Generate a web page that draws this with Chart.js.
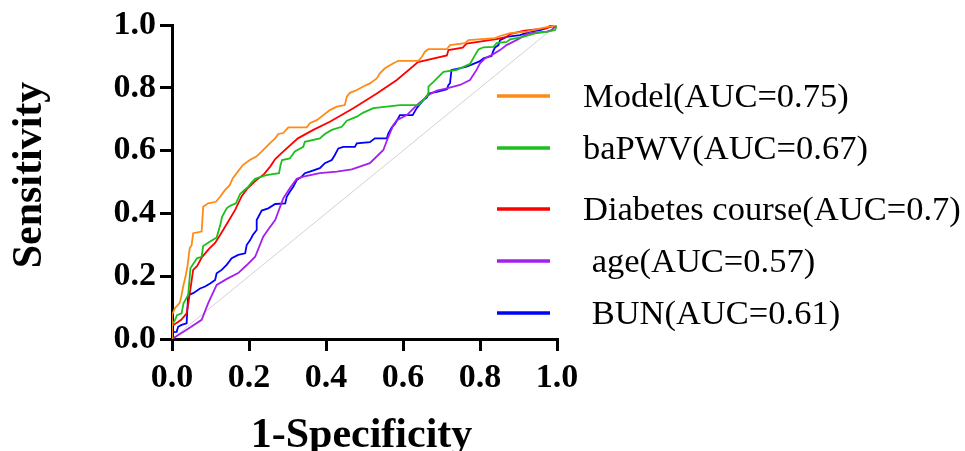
<!DOCTYPE html>
<html>
<head>
<meta charset="utf-8">
<script src="https://cdn.jsdelivr.net/npm/chart.js@4/dist/chart.umd.min.js"></script>
<style>
  html, body { margin: 0; padding: 0; background: #fff; }
  #roc { display: block; }
</style>
</head>
<body>
<canvas id="roc" width="965" height="451"></canvas>
<script>
// eixos
const xTicks = [0, 0.2, 0.4, 0.6, 0.8, 1.0];
const yTicks = [0, 0.2, 0.4, 0.6, 0.8, 1.0];
const xTitle = '1-Specificity';
const yTitle = 'Sensitivity';

// legendas
const seriesLabels = ['Model(AUC=0.75)', 'baPWV(AUC=0.67)', 'Diabetes course(AUC=0.7)', ' age(AUC=0.57)', ' BUN(AUC=0.61)'];
const seriesColors = ['#ff8a16', '#1cbf1c', '#ff0000', '#a51ff0', '#0000ff'];

// curvas ROC (1-especificidade, sensibilidade)
const modelX = [0, 0, 0.008, 0.02, 0.024, 0.029, 0.035, 0.04, 0.046, 0.051, 0.055, 0.077, 0.081, 0.094, 0.114, 0.125, 0.138, 0.15, 0.158, 0.171, 0.184, 0.202, 0.219, 0.232, 0.245, 0.258, 0.268, 0.276, 0.289, 0.302, 0.35, 0.358, 0.376, 0.393, 0.41, 0.428, 0.449, 0.454, 0.462, 0.48, 0.497, 0.514, 0.532, 0.54, 0.553, 0.575, 0.588, 0.64, 0.649, 0.657, 0.666, 0.714, 0.722, 0.761, 0.77, 0.839, 0.852, 0.878, 0.921, 0.938, 0.973, 1];
const modelY = [0, 0.076, 0.099, 0.115, 0.135, 0.167, 0.198, 0.23, 0.289, 0.299, 0.337, 0.342, 0.421, 0.432, 0.437, 0.453, 0.475, 0.49, 0.512, 0.533, 0.554, 0.57, 0.581, 0.596, 0.612, 0.628, 0.639, 0.653, 0.656, 0.674, 0.674, 0.687, 0.697, 0.713, 0.729, 0.74, 0.745, 0.772, 0.784, 0.793, 0.804, 0.814, 0.83, 0.846, 0.862, 0.878, 0.886, 0.886, 0.899, 0.915, 0.923, 0.923, 0.936, 0.942, 0.952, 0.958, 0.965, 0.974, 0.979, 0.984, 0.993, 1];

const bapwvX = [0, 0, 0.008, 0.013, 0.025, 0.03, 0.042, 0.048, 0.065, 0.077, 0.081, 0.103, 0.116, 0.126, 0.13, 0.142, 0.151, 0.166, 0.177, 0.19, 0.199, 0.206, 0.216, 0.223, 0.245, 0.278, 0.282, 0.286, 0.306, 0.319, 0.341, 0.345, 0.384, 0.397, 0.415, 0.441, 0.454, 0.48, 0.497, 0.523, 0.558, 0.592, 0.64, 0.653, 0.666, 0.666, 0.679, 0.692, 0.705, 0.74, 0.774, 0.787, 0.796, 0.809, 0.835, 0.843, 0.869, 0.878, 0.912, 0.943, 0.977, 0.995, 1];
const bapwvY = [0, 0.045, 0.061, 0.076, 0.082, 0.114, 0.14, 0.226, 0.257, 0.262, 0.296, 0.314, 0.323, 0.366, 0.389, 0.416, 0.424, 0.432, 0.462, 0.476, 0.486, 0.497, 0.51, 0.513, 0.522, 0.528, 0.554, 0.57, 0.575, 0.597, 0.612, 0.628, 0.639, 0.653, 0.666, 0.676, 0.695, 0.708, 0.721, 0.735, 0.74, 0.745, 0.745, 0.761, 0.782, 0.804, 0.819, 0.835, 0.851, 0.857, 0.876, 0.904, 0.922, 0.929, 0.93, 0.942, 0.946, 0.954, 0.962, 0.973, 0.979, 0.984, 1];

const diabX = [0, 0, 0.024, 0.038, 0.043, 0.055, 0.065, 0.078, 0.096, 0.112, 0.125, 0.143, 0.164, 0.181, 0.195, 0.216, 0.239, 0.255, 0.268, 0.288, 0.327, 0.367, 0.41, 0.471, 0.532, 0.584, 0.639, 0.714, 0.718, 0.755, 0.765, 0.843, 0.869, 0.878, 0.912, 0.973, 1];
const diabY = [0, 0.041, 0.061, 0.082, 0.118, 0.22, 0.232, 0.261, 0.287, 0.306, 0.331, 0.368, 0.411, 0.455, 0.478, 0.503, 0.525, 0.549, 0.573, 0.596, 0.639, 0.666, 0.692, 0.735, 0.782, 0.825, 0.882, 0.903, 0.92, 0.928, 0.941, 0.955, 0.962, 0.971, 0.981, 0.99, 1];

const ageX = [0, 0.042, 0.077, 0.094, 0.116, 0.145, 0.172, 0.193, 0.216, 0.237, 0.249, 0.268, 0.289, 0.306, 0.324, 0.341, 0.384, 0.428, 0.467, 0.514, 0.549, 0.562, 0.575, 0.584, 0.61, 0.636, 0.657, 0.67, 0.688, 0.714, 0.748, 0.774, 0.791, 0.8, 0.813, 0.83, 0.852, 0.869, 0.887, 0.904, 0.917, 0.93, 0.973, 0.986, 1];
const ageY = [0, 0.033, 0.061, 0.114, 0.172, 0.193, 0.21, 0.234, 0.262, 0.326, 0.347, 0.379, 0.448, 0.48, 0.51, 0.517, 0.528, 0.533, 0.54, 0.56, 0.602, 0.644, 0.682, 0.697, 0.713, 0.745, 0.767, 0.78, 0.791, 0.798, 0.809, 0.825, 0.857, 0.878, 0.894, 0.904, 0.92, 0.936, 0.947, 0.958, 0.968, 0.974, 0.979, 0.984, 1];

const bunX = [0, 0.002, 0.012, 0.016, 0.025, 0.038, 0.042, 0.055, 0.073, 0.086, 0.099, 0.112, 0.116, 0.129, 0.142, 0.155, 0.172, 0.19, 0.194, 0.203, 0.21, 0.22, 0.22, 0.233, 0.25, 0.268, 0.294, 0.298, 0.306, 0.315, 0.324, 0.337, 0.345, 0.358, 0.384, 0.397, 0.415, 0.423, 0.432, 0.445, 0.475, 0.48, 0.514, 0.527, 0.558, 0.562, 0.571, 0.579, 0.588, 0.592, 0.625, 0.636, 0.644, 0.653, 0.662, 0.666, 0.688, 0.714, 0.718, 0.722, 0.726, 0.74, 0.765, 0.783, 0.8, 0.809, 0.83, 0.834, 0.839, 0.848, 0.852, 0.869, 0.904, 0.93, 0.956, 0.973, 0.982, 1];
const bunY = [0, 0.022, 0.023, 0.039, 0.045, 0.05, 0.14, 0.146, 0.161, 0.167, 0.177, 0.188, 0.209, 0.22, 0.236, 0.257, 0.268, 0.273, 0.299, 0.315, 0.331, 0.347, 0.379, 0.409, 0.416, 0.43, 0.432, 0.453, 0.469, 0.485, 0.506, 0.517, 0.528, 0.533, 0.544, 0.56, 0.57, 0.586, 0.607, 0.612, 0.612, 0.623, 0.627, 0.639, 0.639, 0.655, 0.674, 0.685, 0.704, 0.713, 0.713, 0.736, 0.748, 0.761, 0.769, 0.782, 0.787, 0.795, 0.809, 0.814, 0.857, 0.86, 0.867, 0.876, 0.885, 0.894, 0.901, 0.916, 0.928, 0.936, 0.952, 0.962, 0.968, 0.979, 0.984, 0.99, 0.997, 1];

// diagonal de referência
const refX = [0, 1];
const refY = [0, 1];

const serifFont = '"Liberation Serif", "Times New Roman", Times, serif';

function pontos(xs, ys) {
    return xs.map((x, i) => ({ x: x, y: ys[i] }));
}

const curvas = [
    pontos(modelX, modelY),
    pontos(bapwvX, bapwvY),
    pontos(diabX, diabY),
    pontos(ageX, ageY),
    pontos(bunX, bunY)
];

const datasets = curvas.map((d, i) => ({
    label: seriesLabels[i],
    data: d,
    borderColor: seriesColors[i],
    borderWidth: 1.8,
    pointRadius: 0,
    fill: false,
    tension: 0
}));

datasets.push({
    label: 'ref',
    data: pontos(refX, refY),
    borderColor: '#d2d2d2',
    borderWidth: 1,
    pointRadius: 0,
    fill: false
});

// legenda e títulos desenhados à mão para ficarem no lugar certo
const legendaRows = [96, 148, 209, 261, 313];

const extrasPlugin = {
    id: 'extras',
    afterDraw(chart) {
        const ctx = chart.ctx;
        const area = chart.chartArea;
        ctx.save();

        // títulos dos eixos
        ctx.fillStyle = '#000';
        ctx.font = 'bold 42px ' + serifFont;
        ctx.textAlign = 'center';
        ctx.textBaseline = 'middle';
        ctx.fillText(xTitle, (area.left + area.right) / 2 - 3, 436);

        ctx.save();
        ctx.translate(30, 175);
        ctx.rotate(-Math.PI / 2);
        ctx.fillText(yTitle, 0, 0);
        ctx.restore();

        // legenda
        ctx.font = '34.5px ' + serifFont;
        ctx.textAlign = 'left';
        seriesLabels.forEach((lbl, i) => {
            const y = legendaRows[i];
            ctx.strokeStyle = seriesColors[i];
            ctx.lineWidth = 3.5;
            ctx.beginPath();
            ctx.moveTo(497, y);
            ctx.lineTo(550, y);
            ctx.stroke();
            ctx.fillStyle = '#000';
            ctx.fillText(lbl, 583, y + 2);
        });

        ctx.restore();
    }
};

function eixo(ticks, pad) {
    return {
        type: 'linear',
        min: 0,
        max: 1,
        afterBuildTicks: (scale) => { scale.ticks = ticks.map(v => ({ value: v })); },
        ticks: {
            color: '#000',
            font: { family: serifFont, size: 34, weight: 'bold' },
            padding: pad,
            callback: v => Number(v).toFixed(1),
            maxRotation: 0,
            autoSkip: false
        },
        grid: {
            drawOnChartArea: false,
            drawTicks: true,
            tickLength: 12,
            color: '#000',
            lineWidth: 3
        },
        border: { display: true, color: '#000', width: 3 }
    };
}

const xScale = eixo(xTicks, 7);
xScale.afterFit = (scale) => { scale.height = 112; };
const yScale = eixo(yTicks, 4);
yScale.afterFit = (scale) => { scale.width = 172; };

new Chart(document.getElementById('roc').getContext('2d'), {
    type: 'line',
    data: { datasets: datasets },
    options: {
        responsive: false,
        animation: false,
        layout: { padding: { left: 0, top: 25, right: 408, bottom: 0 } },
        scales: { x: xScale, y: yScale },
        plugins: {
            legend: { display: false },
            tooltip: { enabled: false }
        }
    },
    plugins: [extrasPlugin]
});
</script>
</body>
</html>
